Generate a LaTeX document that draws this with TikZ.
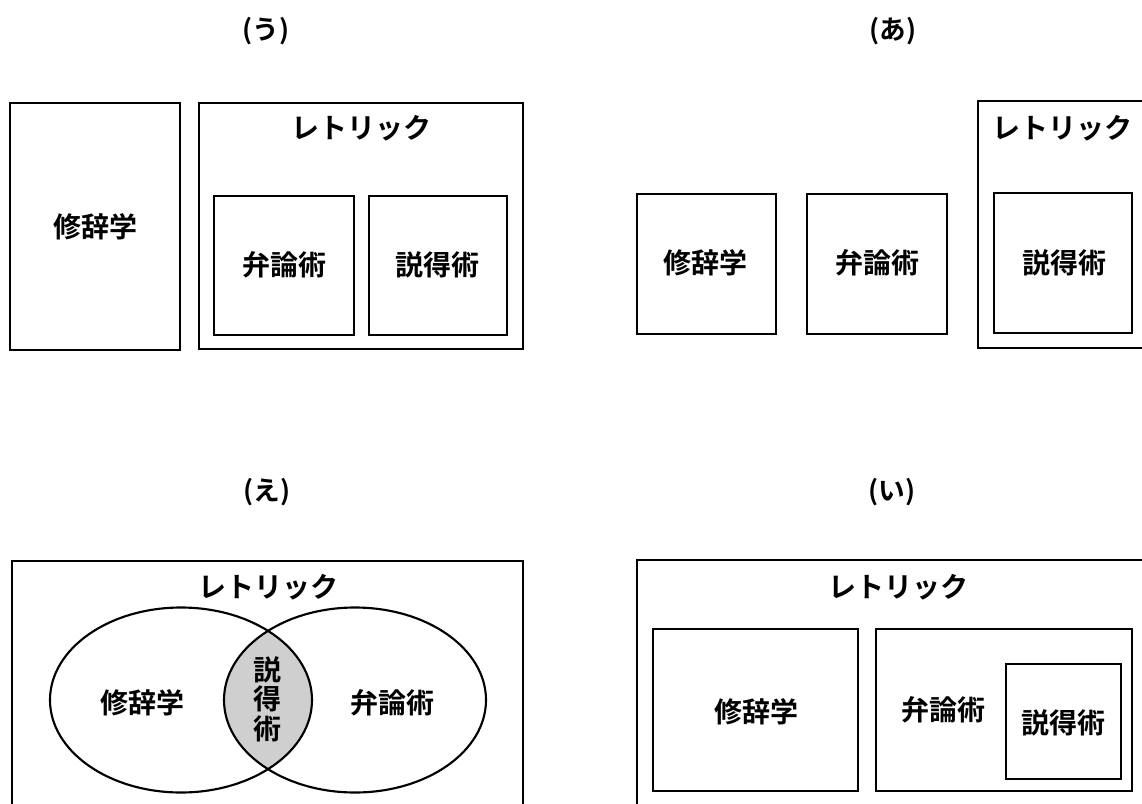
\documentclass[tikz,border=0pt]{standalone}
\usepackage{fontspec}
\setmainfont{Noto Sans CJK JP}[BoldFont={Noto Sans CJK JP Bold}]
\begin{document}
\begin{tikzpicture}[x=0.75pt,y=-0.75pt,
  frame/.style={line width=1.8pt,draw=black},
  venn/.style={line width=1.6pt,draw=black},
  lbl/.style={font=\bfseries\fontsize{21}{23}\selectfont,inner sep=0pt},
  ttl/.style={font=\bfseries\fontsize{20}{22}\selectfont,inner sep=0pt}]
\useasboundingbox (0,0) rectangle (1142,803);
\clip (0,0) rectangle (1142,803);
\fill[white] (0,0) rectangle (1142,803);
% (う)
\node[ttl] (tU) at (266,31) {(う)};
\draw[frame] (10,103) rectangle (180,350);
\node[lbl] (uShu) at (95,227) {修辞学};
\draw[frame] (199,103) rectangle (523,349);
\node[lbl] (uRet) at (361,128) {レトリック};
\draw[frame] (214,196) rectangle (354,335);
\node[lbl] (uBen) at (284,265) {弁論術};
\draw[frame] (369,196) rectangle (507,335);
\node[lbl] (uSet) at (437,265) {説得術};
% (あ)
\node[ttl] (tA) at (893,31) {(あ)};
\draw[frame] (637,194) rectangle (776,334);
\node[lbl] (aShu) at (705,263) {修辞学};
\draw[frame] (807,194) rectangle (947,334);
\node[lbl] (aBen) at (877,263) {弁論術};
\draw[frame] (978,101) rectangle (1160,348);
\node[lbl] (aRet) at (1062,128) {レトリック};
\draw[frame] (994,193) rectangle (1132,333);
\node[lbl] (aSet) at (1064,263) {説得術};
% (え)
\node[ttl] (tE) at (267,492) {(え)};
\draw[frame] (12,561) rectangle (523,820);
\node[lbl] (eRet) at (268,587) {レトリック};
\begin{scope}
  \clip (181,700) ellipse [x radius=131, y radius=92.5];
  \fill[black!19] (355,700) ellipse [x radius=131, y radius=92.5];
\end{scope}
\draw[venn] (181,700) ellipse [x radius=131, y radius=92.5];
\draw[venn] (355,700) ellipse [x radius=131, y radius=92.5];
\node[lbl] (eShu) at (142,703) {修辞学};
\node[lbl,align=center] (eSet) at (267,699) {説\\[-1pt]得\\[-1pt]術};
\node[lbl] (eBen) at (392,703) {弁論術};
% (い)
\node[ttl] (tI) at (892,492) {(い)};
\draw[frame] (637,560) rectangle (1160,820);
\node[lbl] (iRet) at (898,587) {レトリック};
\draw[frame] (653,629) rectangle (858,791);
\node[lbl] (iShu) at (756,712) {修辞学};
\draw[frame] (876,629) rectangle (1132,791);
\node[lbl] (iBen) at (943,710) {弁論術};
\draw[frame] (1006,664) rectangle (1121,779);
\node[lbl] (iSet) at (1063,723) {説得術};
\end{tikzpicture}
\end{document}
